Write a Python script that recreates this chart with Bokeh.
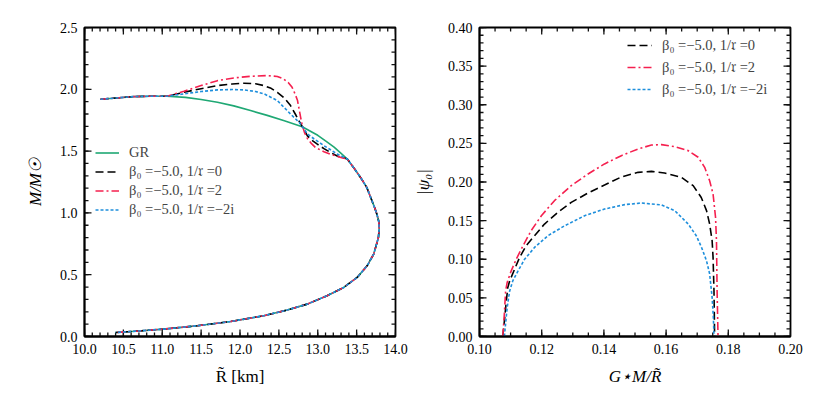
from bokeh.plotting import figure
from bokeh.layouts import row
from bokeh.models import (FixedTicker, NumeralTickFormatter, Legend, LegendItem, Range1d)
from bokeh.embed import file_html
from bokeh.resources import INLINE
import numpy as np

# ---------------- data: left panel (R [km], M/Msun) ----------------
gr_R = [10.206, 10.45, 10.63, 10.85, 11.06, 11.30, 11.50, 11.71, 11.92, 12.135, 12.35, 12.56, 12.80,
        13.00, 13.10, 13.21, 13.30, 13.38, 13.46, 13.55, 13.63, 13.68, 13.73, 13.76, 13.785, 13.79,
        13.78, 13.72, 13.635, 13.507, 13.335, 13.12, 12.865, 12.607, 12.306, 11.878, 11.45, 11.02,
        10.70, 10.40]
gr_M = [1.919, 1.932, 1.941, 1.944, 1.944, 1.935, 1.918, 1.895, 1.866, 1.828, 1.789, 1.747, 1.697,
        1.628, 1.582, 1.532, 1.482, 1.436, 1.368, 1.287, 1.207, 1.126, 1.045, 0.991, 0.93, 0.87,
        0.80, 0.667, 0.572, 0.478, 0.397, 0.33, 0.262, 0.214, 0.168, 0.121, 0.087, 0.06,
        0.045, 0.032]

b0_R = [11.06, 11.28, 11.50, 11.71, 11.90, 12.05, 12.20, 12.31, 12.40, 12.48, 12.57, 12.65, 12.72,
        12.78, 12.81, 12.865, 12.92, 12.99, 13.08, 13.16, 13.25, 13.34, 13.38]
b0_M = [1.944, 1.976, 2.005, 2.030, 2.043, 2.049, 2.045, 2.030, 2.008, 1.976, 1.93, 1.868, 1.79,
        1.72, 1.69, 1.625, 1.59, 1.558, 1.52, 1.49, 1.46, 1.444, 1.436]

b2_R = [11.06, 11.28, 11.50, 11.71, 11.92, 12.135, 12.35, 12.48, 12.56, 12.62, 12.67, 12.71, 12.74,
        12.76, 12.78, 12.80, 12.83, 12.87, 12.92, 12.97, 13.08, 13.16, 13.25, 13.32, 13.38]
b2_M = [1.944, 1.984, 2.03, 2.070, 2.092, 2.105, 2.111, 2.104, 2.084, 2.055, 2.016, 1.96, 1.909,
        1.84, 1.773, 1.71, 1.65, 1.598, 1.56, 1.53, 1.495, 1.475, 1.458, 1.445, 1.436]

bi_R = [11.06, 11.28, 11.50, 11.71, 11.90, 12.05, 12.20, 12.31, 12.48, 12.65, 12.76, 12.80, 12.865,
        12.95, 13.08, 13.25, 13.38]
bi_M = [1.944, 1.963, 1.982, 1.995, 1.998, 1.995, 1.982, 1.963, 1.909, 1.80, 1.733, 1.70, 1.64,
        1.60, 1.544, 1.477, 1.436]

# ---------------- data: right panel (compactness, |psi0|) ----------------
r0_x = [0.1075, 0.1080, 0.1086, 0.1091, 0.1097, 0.1113, 0.1129, 0.1150, 0.1177, 0.1209, 0.1252,
        0.1295, 0.1349, 0.1402, 0.1456, 0.1510, 0.1553, 0.1595, 0.1649, 0.1687, 0.1713, 0.1730,
        0.1740, 0.1748, 0.1751, 0.1754, 0.1756]
r0_y = [0.0, 0.02, 0.045, 0.0635, 0.072, 0.0873, 0.1024, 0.1175, 0.1305, 0.1456, 0.1607,
        0.1736, 0.1858, 0.196, 0.2065, 0.2125, 0.2138, 0.2117, 0.206, 0.1953, 0.180, 0.163,
        0.1456, 0.124, 0.1024, 0.059, 0.0]

r2_x = [0.1075, 0.1080, 0.1084, 0.1089, 0.1102, 0.1118, 0.1140, 0.1166, 0.1199, 0.1241, 0.1295,
        0.1349, 0.1402, 0.1456, 0.1510, 0.1553, 0.1585, 0.1628, 0.1671, 0.1703, 0.1724, 0.1740,
        0.1751, 0.1759, 0.1762, 0.1764, 0.1767]
r2_y = [0.0, 0.03, 0.059, 0.070, 0.085, 0.100, 0.1175, 0.137, 0.1564, 0.1758, 0.1953,
        0.2104, 0.2234, 0.2341, 0.2428, 0.2478, 0.2484, 0.2458, 0.2406, 0.232, 0.219, 0.2017,
        0.1845, 0.1542, 0.124, 0.059, 0.0]

ri_x = [0.1080, 0.1089, 0.1097, 0.1107, 0.1124, 0.1145, 0.1177, 0.1220, 0.1274, 0.1338, 0.1402,
        0.1467, 0.1520, 0.1585, 0.1628, 0.1671, 0.1697, 0.1714, 0.1730, 0.1740, 0.1748, 0.1752,
        0.1754]
ri_y = [0.0, 0.0376, 0.059, 0.072, 0.085, 0.100, 0.1153, 0.1305, 0.1434, 0.1564, 0.165,
        0.1707, 0.1728, 0.1703, 0.1629, 0.1456, 0.1305, 0.1153, 0.098, 0.081, 0.0506, 0.0246,
        0.0]

labels = ["GR", "β₀ =−5.0, 1/𝔯 =0", "β₀ =−5.0, 1/𝔯 =2", "β₀ =−5.0, 1/𝔯 =−2i"]

GREEN = "#1fa874"
RED = "#f5204f"
BLUE = "#1e8fdc"
SERIF = "Liberation Serif"

left_xticks = [10.0, 10.5, 11.0, 11.5, 12.0, 12.5, 13.0, 13.5, 14.0]
left_yticks = [0.0, 0.5, 1.0, 1.5, 2.0, 2.5]
right_xticks = [0.10, 0.12, 0.14, 0.16, 0.18, 0.20]
right_yticks = [0.00, 0.05, 0.10, 0.15, 0.20, 0.25, 0.30, 0.35, 0.40]

FRAME_W = 311
FRAME_H = 309
MAJOR_LEN = 7   # px
MINOR_LEN = 4   # px
TICK_COLOR = "#111111"


def inward_ticks(p, xr, yr, xt, yt, xminor, yminor):
    """Tick marks pointing into the frame on all four sides; lengths converted from px to data units."""
    dx = (xr[1] - xr[0]) / FRAME_W
    dy = (yr[1] - yr[0]) / FRAME_H
    for vals, length in [(xt, MAJOR_LEN), (xminor, MINOR_LEN)]:
        v = list(vals)
        n = len(v)
        p.segment(x0=v, x1=v, y0=[yr[0]] * n, y1=[yr[0] + length * dy] * n,
                  line_color=TICK_COLOR, line_width=1.3)
        p.segment(x0=v, x1=v, y0=[yr[1]] * n, y1=[yr[1] - length * dy] * n,
                  line_color=TICK_COLOR, line_width=1.3)
    for vals, length in [(yt, MAJOR_LEN), (yminor, MINOR_LEN)]:
        v = list(vals)
        n = len(v)
        p.segment(x0=[xr[0]] * n, x1=[xr[0] + length * dx] * n, y0=v, y1=v,
                  line_color=TICK_COLOR, line_width=1.3)
        p.segment(x0=[xr[1]] * n, x1=[xr[1] - length * dx] * n, y0=v, y1=v,
                  line_color=TICK_COLOR, line_width=1.3)


def style_axes(p, xt, yt, xfmt, yfmt, xlabel, ylabel):
    bottom = p.below[0]
    left = p.left[0]
    bottom.ticker = FixedTicker(ticks=xt, minor_ticks=[])
    left.ticker = FixedTicker(ticks=yt, minor_ticks=[])
    bottom.formatter = NumeralTickFormatter(format=xfmt)
    left.formatter = NumeralTickFormatter(format=yfmt)
    for ax in [bottom, left]:
        ax.axis_line_width = 1.8
        ax.axis_line_color = "black"
        ax.major_tick_in = 0
        ax.major_tick_out = 0
        ax.minor_tick_in = 0
        ax.minor_tick_out = 0
        ax.major_label_text_font = SERIF
        ax.major_label_text_font_size = "14px"
        ax.major_label_text_color = "black"
        ax.major_label_standoff = 7
        ax.axis_label_text_font = SERIF
        ax.axis_label_text_font_size = "17px"
        ax.axis_label_text_color = "black"
        ax.axis_label_text_font_style = "italic"
        ax.axis_label_standoff = 10
    bottom.axis_label = xlabel
    left.axis_label = ylabel
    p.xgrid.visible = False
    p.ygrid.visible = False
    p.outline_line_color = "black"
    p.outline_line_width = 1.8
    return bottom, left


# ---------------- left figure ----------------
p1 = figure(frame_width=FRAME_W, frame_height=FRAME_H, x_range=Range1d(10.0, 14.0), y_range=Range1d(0.0, 2.5),
            output_backend="svg", toolbar_location=None,
            min_border_left=84, min_border_right=15, min_border_top=27, min_border_bottom=55)
p1.background_fill_color = "white"
p1.border_fill_color = "white"
b1, l1 = style_axes(p1, left_xticks, left_yticks, "0.0", "0.0", "R̃ [km]", "M/M☉")
b1.axis_label_text_font_style = "normal"
l1.axis_label_standoff = 12
inward_ticks(p1, (10.0, 14.0), (0.0, 2.5), left_xticks, left_yticks,
             list(np.round(np.arange(10.0, 14.01, 0.1), 2)),
             list(np.round(np.arange(0.0, 2.51, 0.1), 2)))

# shared parts of the beta curves follow the GR curve
idx_join = gr_R.index(13.38)
lower_R = gr_R[idx_join + 1:]
lower_M = gr_M[idx_join + 1:]
start_R = gr_R[:4]
start_M = gr_M[:4]

g_gr = p1.line(gr_R, gr_M, line_color=GREEN, line_width=1.6)
g_b0 = p1.line(start_R + b0_R + lower_R, start_M + b0_M + lower_M, line_color="black", line_width=1.6,
               line_dash="8 4")
g_b2 = p1.line(start_R + b2_R + lower_R, start_M + b2_M + lower_M, line_color=RED, line_width=1.6,
               line_dash="8 3 2 3")
g_bi = p1.line(start_R + bi_R + lower_R, start_M + bi_M + lower_M, line_color=BLUE, line_width=1.6,
               line_dash="3 2")

leg1 = Legend(items=[LegendItem(label=labels[0], renderers=[g_gr]),
                     LegendItem(label=labels[1], renderers=[g_b0]),
                     LegendItem(label=labels[2], renderers=[g_b2]),
                     LegendItem(label=labels[3], renderers=[g_bi])],
              location=(11, 117), padding=0, margin=0, spacing=0,
              glyph_width=24, glyph_height=19, label_height=19, label_standoff=10,
              label_text_font=SERIF, label_text_font_size="14.5px",
              border_line_color=None, background_fill_alpha=0)
p1.add_layout(leg1, "center")

# ---------------- right figure ----------------
p2 = figure(frame_width=FRAME_W, frame_height=FRAME_H, x_range=Range1d(0.10, 0.20), y_range=Range1d(0.0, 0.40),
            output_backend="svg", toolbar_location=None,
            min_border_left=60, min_border_right=25, min_border_top=27, min_border_bottom=55)
p2.background_fill_color = "white"
p2.border_fill_color = "white"
b2, l2 = style_axes(p2, right_xticks, right_yticks, "0.00", "0.00", "G⋆M/R̃", "|ψ₀|")
l2.axis_label_standoff = 12
inward_ticks(p2, (0.10, 0.20), (0.0, 0.40), right_xticks, right_yticks,
             list(np.round(np.arange(0.10, 0.2001, 0.005), 3)),
             list(np.round(np.arange(0.0, 0.4001, 0.01), 3)))

h0 = p2.line(r0_x, r0_y, line_color="black", line_width=1.6, line_dash="8 4")
h2 = p2.line(r2_x, r2_y, line_color=RED, line_width=1.6, line_dash="8 3 2 3")
hi = p2.line(ri_x, ri_y, line_color=BLUE, line_width=1.6, line_dash="3 2")

leg2 = Legend(items=[LegendItem(label=labels[1], renderers=[h0]),
                     LegendItem(label=labels[2], renderers=[h2]),
                     LegendItem(label=labels[3], renderers=[hi])],
              location=(148, 236), padding=0, margin=0, spacing=0,
              glyph_width=25, glyph_height=22, label_height=22, label_standoff=10,
              label_text_font=SERIF, label_text_font_size="14.5px",
              border_line_color=None, background_fill_alpha=0)
p2.add_layout(leg2, "center")

layout = row(p1, p2)
open("out.html", "w").write(file_html(layout, INLINE))
